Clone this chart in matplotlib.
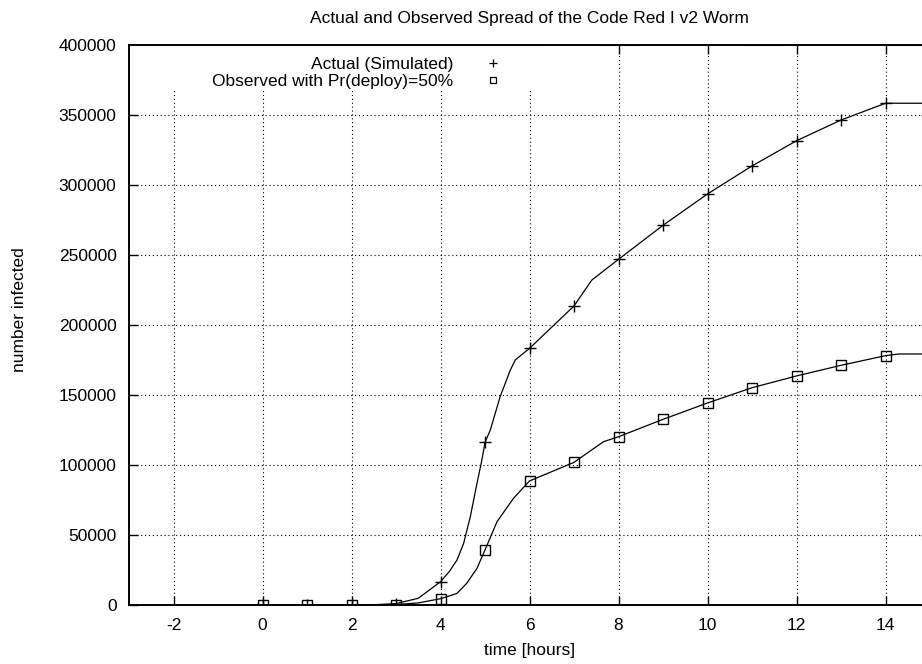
import matplotlib
matplotlib.use('Agg')
import matplotlib.pyplot as plt
from matplotlib.patches import Rectangle
from matplotlib.lines import Line2D

plt.rcParams['font.family'] = ['Liberation Sans', 'DejaVu Sans']
plt.rcParams['axes.unicode_minus'] = False

# simulated curves (hours, hosts infected)
t_actual = [0, 1, 2, 2.5, 3, 3.5, 4, 4.2, 4.37, 4.52, 4.67, 4.82, 4.93, 5,
            5.12, 5.34, 5.57, 5.68, 5.79, 6, 7, 7.4, 8, 9, 10, 11, 12, 13, 14, 15.5]
n_actual = [0, 0, 0, 200, 1000, 4800, 16600, 24000, 32100, 44000, 63100, 86900, 103600, 116200,
            125000, 148800, 167900, 175000, 177900, 183300, 213600, 232100, 246900, 271200,
            293600, 313600, 331600, 346400, 358400, 358400]

t_observed = [0, 1, 2, 2.5, 3, 3.5, 4, 4.2, 4.37, 4.59, 4.82, 5, 5.27, 5.64, 6,
              7, 7.66, 8, 9, 10, 11, 12, 13, 14, 14.3, 15.5]
n_observed = [0, 0, 0, 100, 300, 1500, 4500, 6500, 8300, 15500, 26200, 39300, 59500, 76200, 88600,
              101900, 116600, 120200, 132600, 144300, 155200, 163600, 171200, 178100, 179300, 179300]

# hourly samples shown as points
hours = list(range(0, 15))
pts_actual = [0, 0, 0, 1000, 16600, 116200, 183300, 213600, 246900, 271200,
              293600, 313600, 331600, 346400, 358400]
pts_observed = [0, 0, 0, 300, 4500, 39300, 88600, 101900, 120200, 132600,
                144300, 155200, 163600, 171200, 178100]

W, H = 922, 664
fig = plt.figure(figsize=(W / 100, H / 100), dpi=100)
left, right, top, bottom = 129, 930, 45, 605
ax = fig.add_axes([left / W, 1 - bottom / H, (right - left) / W, (bottom - top) / H])

ax.plot(t_actual, n_actual, color='black', lw=0.9, zorder=2)
ax.plot(t_observed, n_observed, color='black', lw=0.9, zorder=2)
ax.plot(hours, pts_actual, ls='none', marker='+', ms=8, mew=1.0, color='black', zorder=3)
ax.plot(hours, pts_observed, ls='none', marker='s', ms=7.5, mew=1.0, mfc='none', mec='black', zorder=3)

ax.set_xlim(-3, 15)
ax.set_ylim(0, 400000)
ax.set_xticks(range(-2, 15, 2))
ax.set_yticks(range(0, 400001, 50000))
ax.set_axisbelow(True)
ax.grid(True, color='black', ls=(0, (1, 2.5)), lw=0.8)
ax.tick_params(direction='in', length=6.5, width=1, labelsize=12.5, pad=9,
               top=True, right=True)
for s in ax.spines.values():
    s.set_linewidth(1.4)

# white key box hides the grid behind it
ax.add_patch(Rectangle((left / W - 0.001, 1 - 91 / H), (545 - left) / W, 46 / H,
                       transform=fig.transFigure, facecolor='white', edgecolor='none', zorder=1))

handles = [Line2D([], [], ls='none', marker='+', ms=6, mew=0.9, color='black'),
           Line2D([], [], ls='none', marker='s', ms=4.5, mew=0.9, mfc='none', mec='black')]
ax.legend(handles, ['Actual (Simulated)', 'Observed with Pr(deploy)=50%'],
          markerfirst=False, frameon=False, fontsize=12.5, handlelength=1.0,
          handletextpad=1.8, labelspacing=0.12, borderpad=0, borderaxespad=0,
          loc='upper right', bbox_to_anchor=(502 / W, 1 - 57 / H),
          bbox_transform=fig.transFigure)

ax.set_title('Actual and Observed Spread of the Code Red I v2 Worm', fontsize=12.5, pad=16)
ax.set_xlabel('time [hours]', fontsize=12.5)
ax.set_ylabel('number infected', fontsize=12.5)
ax.xaxis.set_label_coords(0.5, -(650 - bottom) / (bottom - top))
ax.xaxis.label.set_va('center')
ax.yaxis.set_label_coords(-(left - 20) / (right - left), (bottom - 310) / (bottom - top))
ax.yaxis.label.set_va('center')

fig.savefig('out.png', dpi=100)
